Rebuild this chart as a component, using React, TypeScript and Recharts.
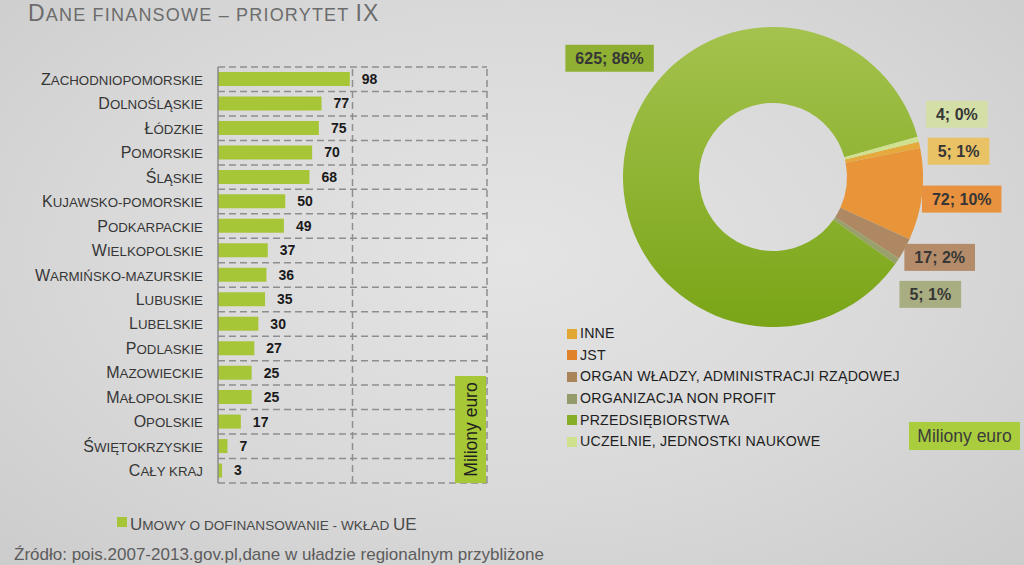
import React from 'react';
import { BarChart, Bar, XAxis, YAxis, CartesianGrid, LabelList, PieChart, Pie, Cell, Legend, ReferenceLine } from 'recharts';

// ---------- data ----------
const regions = [
  'Zachodniopomorskie', 'Dolnośląskie', 'Łódzkie', 'Pomorskie', 'Śląskie',
  'Kujawsko-pomorskie', 'Podkarpackie', 'Wielkopolskie', 'Warmińsko-mazurskie',
  'Lubuskie', 'Lubelskie', 'Podlaskie', 'Mazowieckie', 'Małopolskie',
  'Opolskie', 'Świętokrzyskie', 'Cały kraj',
];
const contributions = [98, 77, 75, 70, 68, 50, 49, 37, 36, 35, 30, 27, 25, 25, 17, 7, 3];
const xTicks = [0, 100, 200];
const barSeriesName = 'Umowy o dofinansowanie - wkład UE';

const beneficiaries = [
  'INNE', 'JST', 'ORGAN WŁADZY, ADMINISTRACJI RZĄDOWEJ', 'ORGANIZACJA NON PROFIT',
  'PRZEDSIĘBIORSTWA', 'UCZELNIE, JEDNOSTKI NAUKOWE',
];
const beneficiaryValues = [5, 72, 17, 5, 625, 4];
const beneficiaryShares = [1, 10, 2, 1, 86, 0];

const titleText = 'Dane finansowe – priorytet IX';
const unitText = 'Miliony euro';
const sourceText = 'Źródło: pois.2007-2013.gov.pl,dane w uładzie regionalnym przybliżone';

// ---------- styles ----------
const FONT = '"Liberation Sans", Arial, sans-serif';
const BAR_COLOR = '#a6c637';
const GRID_COLOR = '#8e8e8e';
const sliceColors = ['#e6aa3c', '#e8953a', '#ad8862', '#9aa06c', 'url(#greenGrad)', '#cfe08f'];
const legendColors = ['#e0a832', '#e0822a', '#a98459', '#949a6a', '#86ae26', '#cfe08f'];
const boxColors = ['#e8c265', '#e8923f', '#b48c69', '#a9ad82', '#8fb033', '#d3dfa6'];

const barData = regions.map((r, i) => ({ region: r, value: contributions[i] }));
const pieData = beneficiaries.map((b, i) => ({ name: b, value: beneficiaryValues[i] }));
const X_DOMAIN: [number, number] = [xTicks[0], xTicks[xTicks.length - 1]];

const PIE_START = 13.6;
const LABEL_R = 190;
const BIG_LABEL_ANGLE = 144;
const BIG_LABEL_R = 202;
const LABEL_GAP = 37;

// split into small-caps runs: uppercase chars big, lowercase rendered small
function capsRuns(text: string): { big: boolean; s: string }[] {
  const runs: { big: boolean; s: string }[] = [];
  for (const ch of text) {
    const isLetter = ch.toLowerCase() !== ch.toUpperCase();
    let big: boolean;
    if (isLetter) big = ch === ch.toUpperCase();
    else big = runs.length ? runs[runs.length - 1].big : false;
    const out = ch.toUpperCase();
    if (runs.length && runs[runs.length - 1].big === big) runs[runs.length - 1].s += out;
    else runs.push({ big, s: out });
  }
  return runs;
}

function CapsTspans({ text, big, small }: { text: string; big: number; small: number }) {
  return (
    <>
      {capsRuns(text).map((r, i) => (
        <tspan key={i} fontSize={r.big ? big : small}>{r.s}</tspan>
      ))}
    </>
  );
}

const RegionTick = (props: any) => {
  const { x, y, payload } = props;
  return (
    <text x={x} y={y} dy={5.5} textAnchor="end" fill="#363636" fontFamily={FONT}>
      <CapsTspans text={payload.value} big={16} small={13.3} />
    </text>
  );
};

// label layout for the doughnut
function computeLabelPositions() {
  const total = beneficiaryValues.reduce((a, b) => a + b, 0);
  let a = PIE_START;
  const mids = beneficiaryValues.map((v) => {
    const span = (v / total) * 360;
    const m = a - span / 2;
    a -= span;
    return m;
  });
  const rad = Math.PI / 180;
  const pos = mids.map((m, i) => {
    if (beneficiaryShares[i] > 50) {
      return { dx: BIG_LABEL_R * Math.cos(BIG_LABEL_ANGLE * rad), dy: -BIG_LABEL_R * Math.sin(BIG_LABEL_ANGLE * rad) };
    }
    return { dx: LABEL_R * Math.cos(m * rad), dy: -LABEL_R * Math.sin(m * rad) };
  });
  // spread right-side small labels vertically
  const idx = pos.map((p, i) => i).filter((i) => beneficiaryShares[i] <= 50 && pos[i].dx > 0);
  idx.sort((p, q) => pos[p].dy - pos[q].dy);
  let clusters = idx.map((i) => ({ members: [i], sum: pos[i].dy, start: pos[i].dy }));
  let changed = true;
  while (changed) {
    changed = false;
    for (let k = 0; k < clusters.length - 1; k++) {
      const c1 = clusters[k];
      const c2 = clusters[k + 1];
      if (c1.start + c1.members.length * LABEL_GAP > c2.start) {
        const members = [...c1.members, ...c2.members];
        const sum = c1.sum + c2.sum;
        const n = members.length;
        clusters.splice(k, 2, { members, sum, start: sum / n - ((n - 1) * LABEL_GAP) / 2 });
        changed = true;
        break;
      }
    }
  }
  clusters.forEach((c) => c.members.forEach((m, k) => { pos[m].dy = c.start + k * LABEL_GAP; }));
  return pos;
}
const labelPositions = computeLabelPositions();

function textWidth(s: string) {
  let w = 0;
  for (const ch of s) {
    if (/[0-9]/.test(ch)) w += 8.9;
    else if (ch === ';') w += 5.3;
    else if (ch === ' ') w += 4.4;
    else if (ch === '%') w += 14.2;
    else w += 9;
  }
  return w;
}

const PieLabel = (props: any) => {
  const { cx, cy, index, value } = props;
  const p = labelPositions[index];
  const x = cx + p.dx;
  const y = cy + p.dy;
  const txt = `${value}; ${beneficiaryShares[index]}%`;
  const w = textWidth(txt) + 20;
  const h = 27;
  return (
    <g>
      <rect x={x - w / 2} y={y - h / 2} width={w} height={h} fill={boxColors[index]} />
      <text x={x} y={y} dy={5.8} textAnchor="middle" fontFamily={FONT} fontWeight="bold" fontSize={16} fill="#363636">
        {txt}
      </text>
    </g>
  );
};

const PieLegendContent = () => (
  <div style={{ fontFamily: FONT }}>
    {beneficiaries.map((b, i) => (
      <div key={b} style={{ display: 'flex', alignItems: 'center', height: 21.6 }}>
        <div style={{ width: 10, height: 10, background: legendColors[i], marginRight: 3 }} />
        <span style={{ fontSize: 14.2, color: '#1e1e1e', lineHeight: '15px', letterSpacing: 0.2 }}>{b}</span>
      </div>
    ))}
  </div>
);

const gridLineProps = { stroke: GRID_COLOR, strokeWidth: 1.5, strokeDasharray: '7 4' };

export default function App() {
  const N = regions.length;
  return (
    <div
      style={{
        position: 'absolute', left: 0, top: 0, width: 1024, height: 565, overflow: 'hidden',
        background: 'radial-gradient(ellipse at 50% 45%, #e4e4e4 0%, #d9d9d9 55%, #cccccc 100%)',
      }}
    >
      <div style={{ position: 'absolute', left: 0, top: 0 }}>
        <BarChart
          width={520}
          height={500}
          layout="vertical"
          data={barData}
          margin={{ top: 67, right: 33, bottom: 17, left: 8 }}
          barSize={14}
        >
          <CartesianGrid
            {...gridLineProps}
            vertical={false}
            horizontalCoordinatesGenerator={({ offset }: any) =>
              Array.from({ length: N + 1 }, (_, i) => offset.top + (i * offset.height) / N)
            }
          />
          <XAxis type="number" domain={X_DOMAIN} ticks={xTicks} height={0} tick={false} axisLine={false} tickLine={false} />
          <YAxis
            type="category"
            dataKey="region"
            width={210}
            tick={<RegionTick />}
            tickLine={false}
            tickSize={0}
            tickMargin={15}
            axisLine={{ stroke: '#8a8a8a', strokeWidth: 1.5 }}
            interval={0}
          />
          {xTicks.slice(1).map((t) => (
            <ReferenceLine key={t} x={t} {...gridLineProps} />
          ))}
          <Bar dataKey="value" name={barSeriesName} fill={BAR_COLOR} isAnimationActive={false}>
            <LabelList dataKey="value" position="right" offset={12} fill="#1a1a1a" fontWeight="bold" fontSize={14} fontFamily={FONT} />
          </Bar>
        </BarChart>
      </div>

      <div style={{ position: 'absolute', left: 540, top: 0 }}>
        <PieChart width={484} height={470} margin={{ top: 0, right: 0, bottom: 0, left: 0 }}>
          <defs>
            <linearGradient id="greenGrad" x1="0" y1="0" x2="0" y2="1">
              <stop offset="0%" stopColor="#a4c24e" />
              <stop offset="100%" stopColor="#7aa517" />
            </linearGradient>
          </defs>
          <Pie
            data={pieData}
            dataKey="value"
            nameKey="name"
            cx={233}
            cy={177}
            innerRadius={74}
            outerRadius={150}
            startAngle={PIE_START}
            endAngle={PIE_START - 360}
            stroke="none"
            labelLine={false}
            label={<PieLabel />}
            isAnimationActive={false}
          >
            {pieData.map((d, i) => (
              <Cell key={d.name} fill={sliceColors[i]} />
            ))}
          </Pie>
          <Legend
            layout="horizontal"
            verticalAlign="bottom"
            content={<PieLegendContent />}
            wrapperStyle={{ left: 27, top: 323, bottom: 'auto', width: 420 }}
          />
        </PieChart>
      </div>

      <svg width={1024} height={565} style={{ position: 'absolute', left: 0, top: 0, pointerEvents: 'none' }}>
        <text x={28} y={21} fill="#6c6c6c" fontFamily={FONT} letterSpacing={1.2}>
          <CapsTspans text={titleText} big={23} small={18} />
        </text>

        <rect x={455} y={376} width={31} height={107} fill="#a6c836" />
        <text
          x={0}
          y={0}
          transform="translate(477 429.5) rotate(-90)"
          textAnchor="middle"
          fontFamily={FONT}
          fontSize={17.5}
          fill="#1e1e1e"
        >
          {unitText}
        </text>

        <rect x={117} y={517} width={10} height={10} fill={BAR_COLOR} />
        <text x={130} y={530} fill="#4a4a4a" fontFamily={FONT}>
          <CapsTspans text={barSeriesName} big={17} small={13.6} />
        </text>

        <text x={14} y={560} fill="#5c5c5c" fontFamily={FONT} fontSize={17}>
          {sourceText}
        </text>

        <rect x={909} y={422} width={111} height={28} fill="#a9cd3c" />
        <text x={964.5} y={442} textAnchor="middle" fontFamily={FONT} fontSize={17.5} fill="#3c3c3c">
          {unitText}
        </text>
      </svg>
    </div>
  );
}
